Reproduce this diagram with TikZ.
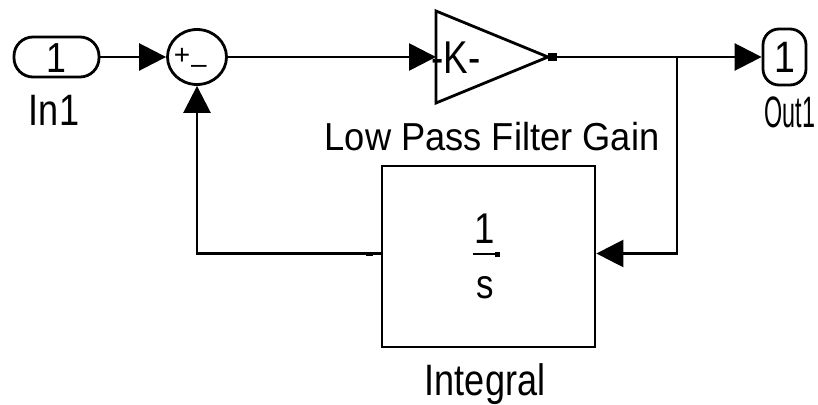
\documentclass[tikz,border=0pt]{standalone}
\usepackage{fontspec}
\usepackage{graphicx}
\setmainfont{Liberation Sans}
\usetikzlibrary{arrows.meta,shapes.geometric}
\newcommand{\squeezed}[2]{\scalebox{#1}[1]{#2}}

\begin{document}
\begin{tikzpicture}[
  x=1pt,
  y=-1pt,
  line width=2.8pt,
  >={Triangle[length=27pt,width=27pt]},
  signal/.style={->,line width=2.6pt},
  block/.style={draw,line width=2.8pt,inner sep=0pt},
  portblk/.style={block,rounded corners=#1,font=\fontsize{42}{42}\selectfont},
  blocklabel/.style={font=\fontsize{44}{44}\selectfont,inner sep=0pt,anchor=base},
  signlabel/.style={font=\fontsize{28}{28}\selectfont,inner sep=0pt}
]
\useasboundingbox (0,0) rectangle (818,404);

% Ports
\node[portblk=19pt,minimum width=85pt,minimum height=40pt] (in1) at (56.5,57) {};
\node[inner sep=0pt,anchor=base,font=\fontsize{42}{42}\selectfont] (in1num) at (56.5,72) {\squeezed{0.85}{1}};
\node[blocklabel] (in1lbl) at (54,125) {\squeezed{0.82}{In1}};

\node[portblk=16pt,minimum width=43pt,minimum height=56pt] (out1) at (784.5,57) {};
\node[inner sep=0pt,anchor=base,font=\fontsize{44}{44}\selectfont] (out1num) at (784.5,72) {\squeezed{0.85}{1}};
\node[blocklabel] (out1lbl) at (790,127) {\squeezed{0.53}{Out1}};

% Sum
\node[block,ellipse,minimum width=59pt,minimum height=55pt] (sum) at (197,57) {};
\node[signlabel] (plus) at (182,56) {+};
\node[signlabel] (minus) at (199,69) {\textendash};

% Gain
\coordinate (gainin) at (436,57);
\coordinate (gainout) at (548,57);
\draw[line width=2.8pt,line join=miter] (gainin) ++(0,-46) -- (gainout) -- (436,103) -- cycle;
\node[blocklabel,font=\fontsize{46}{46}\selectfont] (gaintxt) at (456,73) {\squeezed{0.8}{-K-}};
\node[blocklabel,font=\fontsize{39}{39}\selectfont] (gainlbl) at (492,150)
  {\squeezed{0.93}{Low Pass Filter Gain}};
\fill (gainout) ++(0,-3.5) rectangle ++(9,7);

% Integrator
\node[block,minimum width=213pt,minimum height=181pt] (integ) at (488.5,256.5) {};
\node[blocklabel,font=\fontsize{43}{43}\selectfont] (integnum) at (485,243) {\squeezed{0.85}{1}};
\node[blocklabel,font=\fontsize{41}{41}\selectfont] (integden) at (485,298) {\squeezed{0.85}{s}};
\draw[line width=2pt] (473,254) -- (495,254);
\fill (495,252) rectangle (500,256.5);
\node[blocklabel] (integlbl) at (485,395) {\squeezed{0.82}{Integral}};
\fill (366,252) rectangle (373,256);

% Signal lines
\coordinate (branch) at (677,57);
\draw[signal] (in1.east) -- (sum.west);
\draw[signal] (sum.east) -- (gainin);
\draw[signal] (gainout) -- (out1.west);
\draw[signal] (branch) |- ([yshift=3pt]integ.east);
\draw[signal] ([yshift=3pt]integ.west) -| (sum.south);

\end{tikzpicture}
\end{document}
